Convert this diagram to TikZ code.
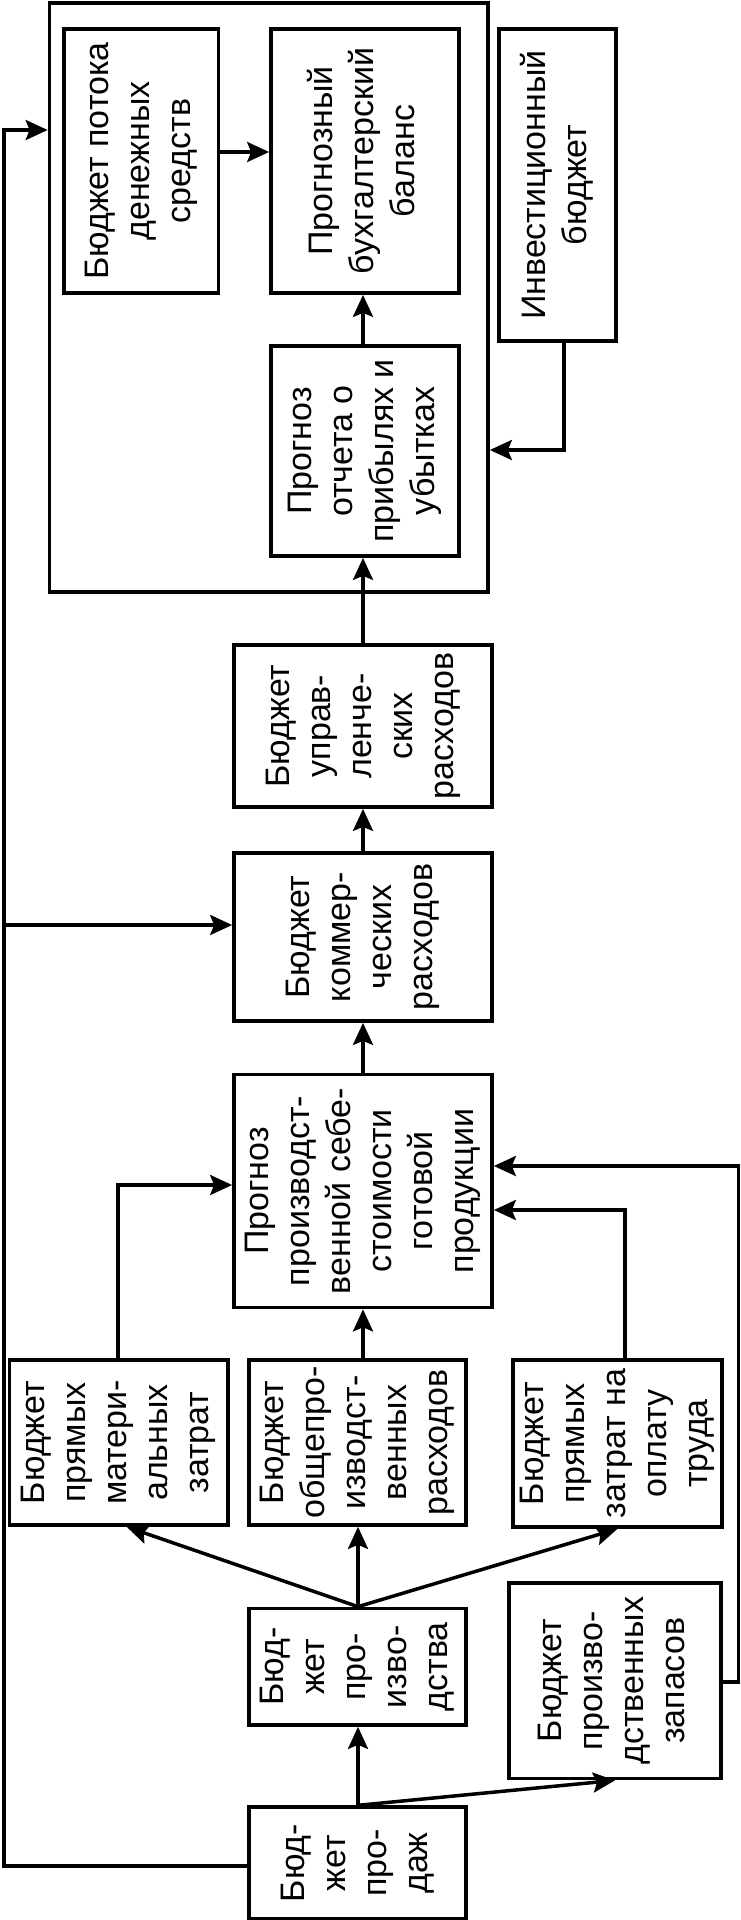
\documentclass[tikz,border=0pt]{standalone}
\usepackage{fontspec}
\setmainfont{Liberation Sans}
\usepackage{graphicx}
\usetikzlibrary{arrows.meta}
\newcommand{\vtext}[1]{\rotatebox{90}{\fontsize{34}{41}\selectfont\begin{tabular}{@{}c@{}}#1\end{tabular}}}
\begin{document}
\begin{tikzpicture}[x=1pt,y=-1pt,
  box/.style 2 args={draw, line width=3.7pt, inner sep=0pt, minimum width=#1, minimum height=#2},
  ln/.style={line width=3.5pt},
  arr/.style={line width=3.5pt, -{Stealth[length=22pt,width=20pt,inset=4pt]}}]
\useasboundingbox (0,0) rectangle (740,1920);
% boxes
\node[box={438.5pt}{588.7pt}] (outer) at (268.75,297.6) {};
\node[box={154.5pt}{264pt}] (cash) at (141.25,161) {\vtext{Бюджет потока\\денежных\\средств}};
\node[box={188pt}{264pt}] (bal) at (365,161) {\vtext{Прогнозный\\бухгалтерский\\баланс}};
\node[box={117pt}{312pt}] (inv) at (557.5,185) {\vtext{Инвестиционный\\бюджет}};
\node[box={188pt}{210pt}] (pl) at (365,451) {\vtext{Прогноз\\отчета о\\прибылях и\\убытках}};
\node[box={258pt}{162pt}] (mgmt) at (363,726) {\vtext{Бюджет\\управ-\\ленче-\\ских\\расходов}};
\node[box={258pt}{168pt}] (comm) at (363,937) {\vtext{Бюджет\\коммер-\\ческих\\расходов}};
\node[box={258pt}{233pt}] (cost) at (363,1191) {\vtext{Прогноз\\производст-\\венной себе-\\стоимости\\готовой\\продукции}};
\node[box={218.6pt}{165pt}] (mat) at (118.7,1442.5) {\vtext{Бюджет\\прямых\\матери-\\альных\\затрат}};
\node[box={217pt}{165pt}] (ovh) at (357.5,1442.5) {\vtext{Бюджет\\общепро-\\изводст-\\венных\\расходов}};
\node[box={209pt}{167pt}] (lab) at (617.5,1443.5) {\vtext{Бюджет\\прямых\\затрат на\\оплату\\труда}};
\node[box={217pt}{116.5pt}] (prod) at (357.5,1666.75) {\vtext{Бюд-\\жет\\про-\\изво-\\дства}};
\node[box={212pt}{195.5pt}] (stock) at (615,1680.75) {\vtext{Бюджет\\произво-\\дственных\\запасов}};
\node[box={217pt}{111.7pt}] (sales) at (357.5,1863) {\vtext{Бюд-\\жет\\про-\\даж}};
% coordinates
\coordinate (lt) at (4,130);
\coordinate (lm) at (4,925);
\coordinate (lb) at (4,1866);
\coordinate (cf) at (0,152);
\coordinate (iv) at (564,450);
\coordinate (mr) at (118,1185);
\coordinate (lr) at (625,1210);
\coordinate (sr) at (738.5,1166);
\coordinate (sb) at (738.5,1682);
\coordinate (vx) at (363,0);
\coordinate (vp) at (358,0);
% connectors
\draw[arr] (cash.east |- cf) -- (bal.west |- cf);
\draw[arr] (pl.north -| vx) -- (bal.south -| vx);
\draw[arr] (inv.south -| iv) -- (iv) -- (outer.east |- iv);
\draw[arr] (sales.west |- lb) -- (lb) -- (lt) -- (outer.west |- lt);
\draw[arr] (lm) -- (comm.west |- lm);
\draw[arr] (mgmt.north -| vx) -- (pl.south -| vx);
\draw[arr] (comm.north -| vx) -- (mgmt.south -| vx);
\draw[arr] (cost.north -| vx) -- (comm.south -| vx);
\draw[arr] (mat.north -| mr) -- (mr) -- (cost.west |- mr);
\draw[arr] (ovh.north -| vx) -- (cost.south -| vx);
\draw[arr] (lab.north -| lr) -- (lr) -- (cost.east |- lr);
\draw[arr] (stock.east |- sb) -- (sb) -- (sr) -- (cost.east |- sr);
\draw[arr] (prod.north -| vp) -- ([xshift=8pt]mat.south);
\draw[arr] (prod.north -| vp) -- (ovh.south -| vp);
\draw[arr] (prod.north -| vp) -- (lab.south);
\draw[arr] (sales.north -| vp) -- (prod.south -| vp);
\draw[arr] (sales.north -| vp) -- (stock.south);
\end{tikzpicture}
\end{document}
